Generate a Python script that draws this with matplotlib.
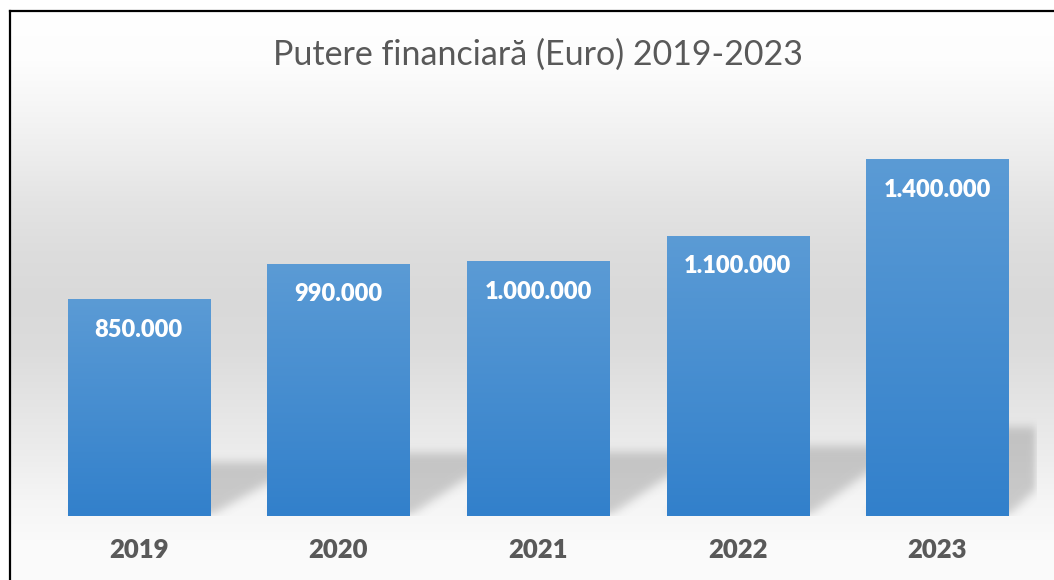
import numpy as np
import matplotlib.pyplot as plt

years = ["2019", "2020", "2021", "2022", "2023"]
values = [850000, 990000, 1000000, 1100000, 1400000]
labels = ["850.000", "990.000", "1.000.000", "1.100.000", "1.400.000"]
title = "Putere financiară (Euro) 2019-2023"

W, H = 1054, 580
fig = plt.figure(figsize=(W / 100, H / 100), dpi=100)

# background gradient (light at top, gray band in the middle, near white at bottom)
bg = fig.add_axes([0, 0, 1, 1], zorder=0)
bg.axis("off")
stops_y = [11, 60, 100, 150, 200, 250, 300, 350, 400, 450, 500, 540, 580]
stops_g = [255, 253, 247, 238, 228, 221, 217, 220, 228, 236, 245, 250, 251]
rows = np.interp(np.arange(H), stops_y, stops_g) / 255.0
img = np.repeat(rows[:, None], W, axis=1)
img[:11, :] = 1.0
img[:, :10] = 1.0
bg.imshow(np.dstack([img] * 3), extent=(0, W, H, 0), aspect="auto", interpolation="bilinear")
bg.plot([10, 10], [11, H], color="black", lw=1.6)
bg.plot([10, W], [11, 11], color="black", lw=1.6)
bg.set_xlim(0, W)
bg.set_ylim(H, 0)

ax = fig.add_axes([39 / W, 64 / H, 998 / W, 407 / H], zorder=1)
ax.patch.set_alpha(0)
ymax = 1600000
width = 0.712
x = np.arange(len(years))

# soft cast shadow behind each bar
nx, ny = 998, 407
gx = np.linspace(-0.5, len(years) - 0.5, nx)
gy = np.linspace(0, ymax, ny)
XX, YY = np.meshgrid(gx, gy)
mask = np.zeros_like(XX)
shift = 0.48
for i, v in enumerate(values):
    hs = 0.25 * v
    t = YY / hs
    inside = (YY <= hs) & (XX >= i - width / 2 + shift * t) & (XX <= i + width / 2 + shift * t)
    mask[inside] = 1.0
k = np.ones(9) / 9
for _ in range(3):
    mask = np.apply_along_axis(lambda r: np.convolve(r, k, mode="same"), 1, mask)
    mask = np.apply_along_axis(lambda c: np.convolve(c, k, mode="same"), 0, mask)
shadow = np.zeros((ny, nx, 4))
shadow[..., :3] = 0.45
shadow[..., 3] = mask * 0.33
ax.imshow(shadow, extent=(-0.5, len(years) - 0.5, 0, ymax), origin="lower",
          aspect="auto", zorder=1)

# bars with vertical blue gradient
bars = ax.bar(x, values, width=width, color="#4a8fd2", zorder=2)
top_c = np.array([91, 155, 213]) / 255
bot_c = np.array([50, 128, 203]) / 255
grad = np.linspace(0, 1, 256)[:, None]
grad_img = bot_c[None, None, :] * (1 - grad[..., None]) + top_c[None, None, :] * grad[..., None]
for b in bars:
    x0, y0 = b.get_x(), b.get_y()
    ax.imshow(grad_img, extent=(x0, x0 + b.get_width(), y0, y0 + b.get_height()),
              origin="lower", aspect="auto", zorder=3, clip_path=b, clip_on=True)

for i, (v, lab) in enumerate(zip(values, labels)):
    ax.annotate(lab, (i, v), xytext=(0, -21.6), textcoords="offset points",
                ha="center", va="center", color="white", fontsize=17,
                fontweight="heavy", family="Lato", zorder=4)

ax.set_xlim(-0.5, len(years) - 0.5)
ax.set_ylim(0, ymax)
ax.set_xticks(x, years)
ax.set_yticks([])
ax.tick_params(axis="x", length=0, pad=16)
for lab in ax.get_xticklabels():
    lab.set_fontsize(18.5)
    lab.set_fontweight("heavy")
    lab.set_color("#595959")
    lab.set_family("Lato")
for s in ax.spines.values():
    s.set_visible(False)

fig.text(538 / W, 1 - 55 / H, title, ha="center", va="center", fontsize=24.5,
         color="#595959", family="Lato")

fig.savefig("out.png", dpi=100)
